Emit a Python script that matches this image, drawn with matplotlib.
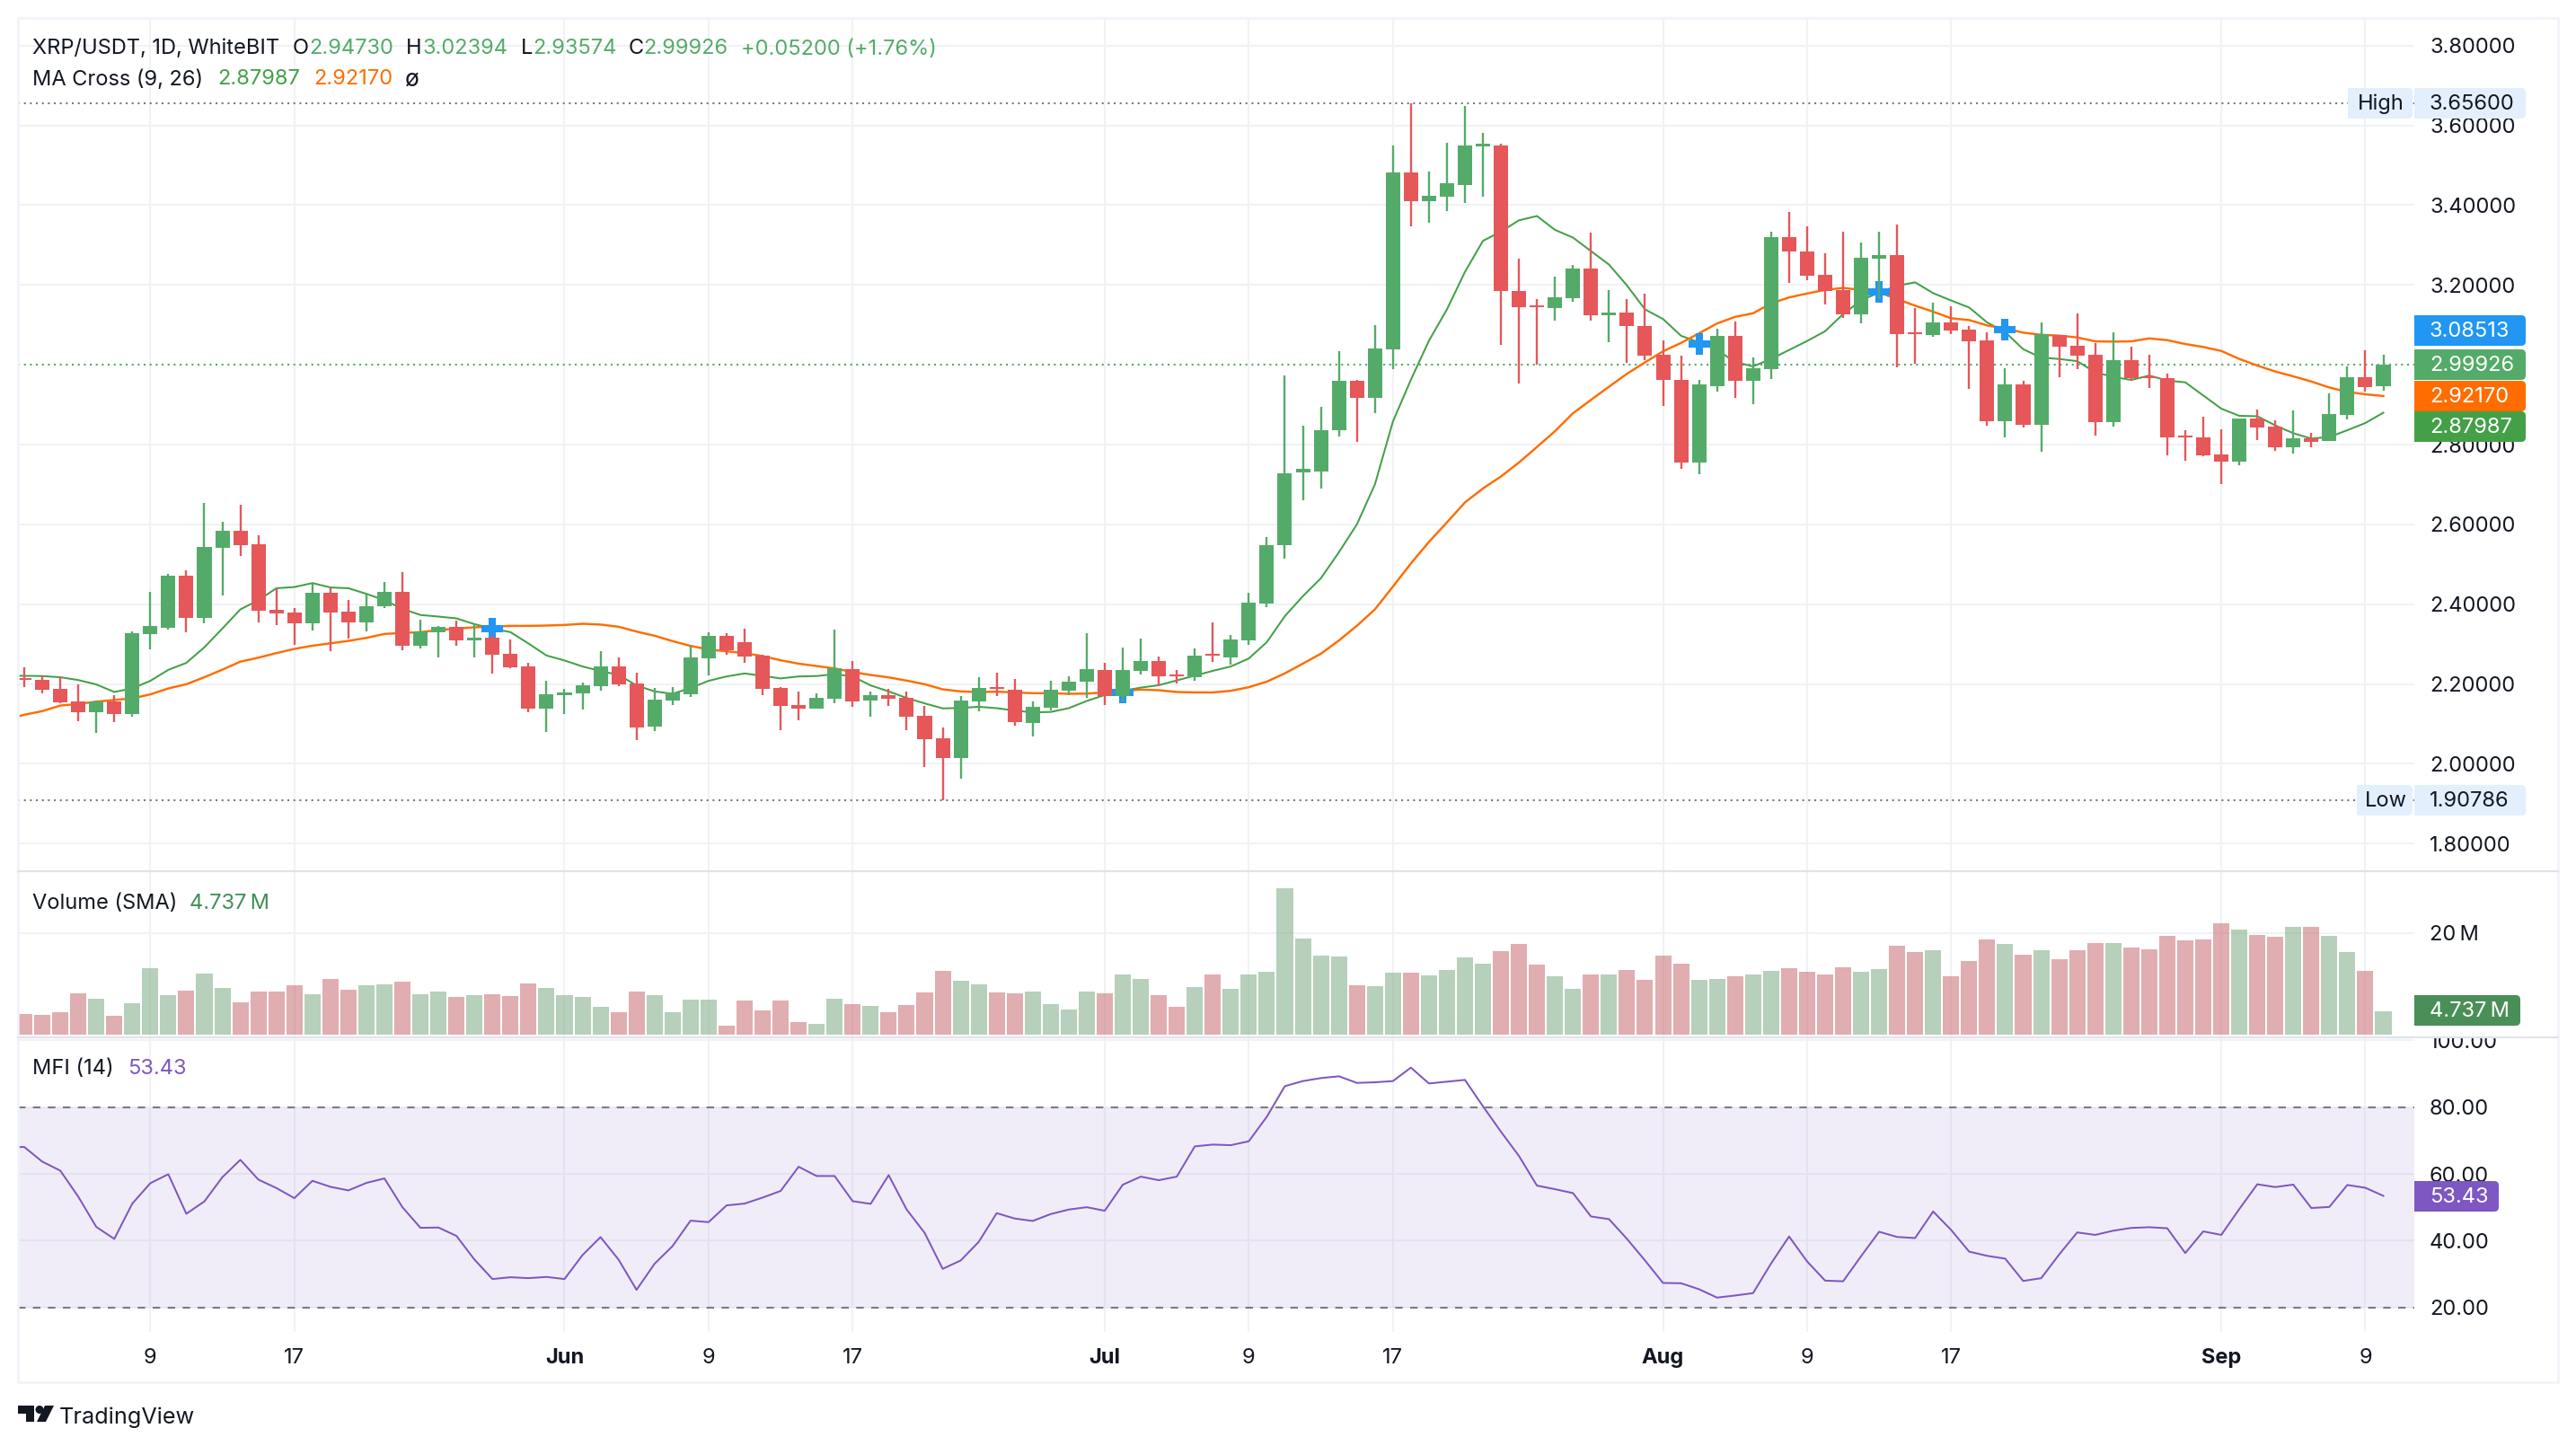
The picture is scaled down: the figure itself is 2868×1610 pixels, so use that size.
import numpy as np
import matplotlib
matplotlib.use("Agg")
import matplotlib.pyplot as plt
from matplotlib.patches import Rectangle, FancyBboxPatch, Polygon, Circle
from matplotlib.transforms import Affine2D, Bbox

plt.rcParams['font.family'] = ['Inter', 'DejaVu Sans']

# daily candles, 2 May to 10 Sep
opens = [2.215, 2.211, 2.188, 2.157, 2.130, 2.157, 2.125, 2.3255, 2.341, 2.472,
         2.366, 2.5415, 2.584, 2.5505, 2.386, 2.3795, 2.3525, 2.429, 2.382, 2.355,
         2.395, 2.431, 2.296, 2.330, 2.3435, 2.310, 2.3165, 2.276, 2.2445, 2.139,
         2.1725, 2.177, 2.195, 2.2445, 2.202, 2.094, 2.159, 2.175, 2.265, 2.321,
         2.305, 2.2715, 2.1905, 2.148, 2.139, 2.1635, 2.238, 2.159, 2.1725, 2.166,
         2.121, 2.0645, 2.015, 2.157, 2.193, 2.186, 2.103, 2.141, 2.184, 2.206,
         2.2355, 2.170, 2.233, 2.258, 2.224, 2.2175, 2.276, 2.267, 2.310, 2.402,
         2.548, 2.73, 2.733, 2.837, 2.959, 2.918, 3.0375, 3.483, 3.411, 3.422,
         3.4515, 3.548, 3.5505, 3.184, 3.148, 3.141, 3.166, 3.240, 3.123, 3.130,
         3.098, 3.024, 2.963, 2.755, 2.947, 3.073, 2.9605, 2.990, 3.3205, 3.2845,
         3.226, 3.188, 3.127, 3.2665, 3.2755, 3.082, 3.075, 3.107, 3.089, 3.0615,
         2.859, 2.9515, 2.850, 3.075, 3.048, 3.026, 2.857, 3.012, 2.9715, 2.967,
         2.823, 2.819, 2.776, 2.758, 2.8645, 2.846, 2.794, 2.8165, 2.810, 2.875,
         2.9695, 2.9473]
closes = [2.211, 2.186, 2.1545, 2.130, 2.157, 2.125, 2.328, 2.346, 2.472, 2.366,
          2.544, 2.584, 2.548, 2.384, 2.377, 2.3525, 2.429, 2.3795, 2.355, 2.395,
          2.431, 2.296, 2.332, 2.3435, 2.310, 2.3165, 2.274, 2.242, 2.139, 2.175,
          2.179, 2.197, 2.2445, 2.1995, 2.0915, 2.161, 2.179, 2.267, 2.321, 2.285,
          2.269, 2.188, 2.1455, 2.139, 2.166, 2.240, 2.157, 2.1725, 2.1635, 2.1185,
          2.062, 2.015, 2.159, 2.1905, 2.188, 2.105, 2.143, 2.186, 2.206, 2.238,
          2.170, 2.2355, 2.258, 2.220, 2.220, 2.2715, 2.2715, 2.312, 2.404, 2.548,
          2.729, 2.74, 2.837, 2.959, 2.918, 3.04, 3.483, 3.411, 3.4245, 3.456,
          3.5505, 3.553, 3.184, 3.1435, 3.1435, 3.168, 3.240, 3.123, 3.130, 3.096,
          3.022, 2.961, 2.755, 2.950, 3.073, 2.9605, 2.992, 3.3205, 3.2845, 3.224,
          3.1855, 3.127, 3.269, 3.2755, 3.0775, 3.0775, 3.107, 3.0865, 3.0595, 2.859,
          2.9515, 2.850, 3.0775, 3.046, 3.0235, 2.857, 3.012, 2.967, 2.967, 2.819,
          2.819, 2.774, 2.758, 2.8645, 2.8435, 2.794, 2.8165, 2.8075, 2.877, 2.9695,
          2.9445, 2.99926]
highs = [2.2415, 2.221, 2.219, 2.1995, 2.159, 2.1725, 2.332, 2.431, 2.476, 2.485,
         2.654, 2.607, 2.6495, 2.573, 2.440, 2.391, 2.4515, 2.440, 2.411, 2.4245,
         2.456, 2.481, 2.3615, 2.346, 2.359, 2.350, 2.323, 2.312, 2.2535, 2.2085,
         2.188, 2.203, 2.283, 2.267, 2.229, 2.1905, 2.193, 2.298, 2.330, 2.328,
         2.339, 2.274, 2.193, 2.1815, 2.177, 2.337, 2.258, 2.1815, 2.188, 2.1815,
         2.1455, 2.0915, 2.170, 2.2175, 2.229, 2.213, 2.157, 2.2085, 2.220, 2.328,
         2.2535, 2.292, 2.314, 2.269, 2.2355, 2.2895, 2.355, 2.323, 2.429, 2.5685,
         2.974, 2.848, 2.895, 3.035, 2.961, 3.1, 3.5505, 3.656, 3.485, 3.557,
         3.6495, 3.580, 3.553, 3.265, 3.1635, 3.220, 3.251, 3.330, 3.186, 3.1635,
         3.179, 3.060, 3.022, 2.963, 3.091, 3.109, 3.019, 3.334, 3.3835, 3.3475,
         3.280, 3.334, 3.307, 3.334, 3.352, 3.143, 3.156, 3.147, 3.098, 3.082,
         2.992, 2.9605, 3.107, 3.075, 3.129, 3.055, 3.082, 3.046, 3.026, 2.9785,
         2.837, 2.8705, 2.839, 2.8645, 2.8885, 2.8615, 2.886, 2.830, 2.929, 2.996,
         3.037, 3.02394]
lows = [2.193, 2.177, 2.1515, 2.107, 2.078, 2.105, 2.1185, 2.287, 2.337, 2.330,
        2.352, 2.422, 2.521, 2.355, 2.348, 2.2985, 2.3345, 2.283, 2.314, 2.332,
        2.391, 2.285, 2.2895, 2.267, 2.296, 2.267, 2.2265, 2.240, 2.130, 2.080,
        2.125, 2.1365, 2.184, 2.195, 2.060, 2.0825, 2.148, 2.168, 2.222, 2.274,
        2.2535, 2.1725, 2.085, 2.1095, 2.139, 2.152, 2.143, 2.1185, 2.1455, 2.085,
        1.9925, 1.90786, 1.963, 2.132, 2.170, 2.096, 2.069, 2.134, 2.1725, 2.166,
        2.148, 2.157, 2.224, 2.195, 2.202, 2.2085, 2.256, 2.249, 2.2985, 2.393,
        2.515, 2.66, 2.69, 2.821, 2.806, 2.878, 2.988, 3.3458, 3.355, 3.386,
        3.4065, 3.422, 3.049, 2.954, 3.001, 3.1095, 3.157, 3.1095, 3.0555, 3.004,
        3.0125, 2.896, 2.74, 2.725, 2.9335, 2.918, 2.902, 2.965, 3.206, 3.2125,
        3.152, 3.118, 3.1045, 3.1645, 2.994, 3.003, 3.071, 3.0775, 2.940, 2.848,
        2.819, 2.8435, 2.783, 2.9695, 2.990, 2.823, 2.846, 2.9605, 2.9425, 2.774,
        2.760, 2.7715, 2.702, 2.749, 2.812, 2.785, 2.778, 2.794, 2.810, 2.864,
        2.933, 2.93574]

# the indicators start one day before the first visible candle
ma_fast = [2.2215, 2.2205, 2.220, 2.217, 2.210, 2.199, 2.180, 2.189, 2.208, 2.2355, 2.253,
           2.292, 2.339, 2.387, 2.410, 2.440, 2.443, 2.453, 2.442, 2.440, 2.426,
           2.410, 2.3885, 2.373, 2.369, 2.3645, 2.350, 2.339, 2.330, 2.3015, 2.2715,
           2.259, 2.244, 2.2325, 2.223, 2.1965, 2.1815, 2.1755, 2.190, 2.208, 2.219,
           2.2265, 2.2205, 2.214, 2.219, 2.220, 2.225, 2.219, 2.1965, 2.1815, 2.165,
           2.1515, 2.139, 2.140, 2.143, 2.1395, 2.1335, 2.129, 2.130, 2.1395, 2.1575,
           2.1725, 2.183, 2.191, 2.197, 2.209, 2.221, 2.233, 2.244, 2.264, 2.305,
           2.37, 2.42, 2.465, 2.53, 2.60, 2.70, 2.8575, 2.9625, 3.060, 3.1387,
           3.2325, 3.3105, 3.3337, 3.362, 3.3727, 3.338, 3.3187, 3.285, 3.251, 3.1987,
           3.1387, 3.1147, 3.0727, 3.056, 3.037, 3.007, 2.996, 3.0145, 3.037, 3.0595,
           3.084, 3.127, 3.161, 3.181, 3.198, 3.2065, 3.1795, 3.161, 3.1435, 3.106,
           3.082, 3.039, 3.018, 3.0145, 3.009, 2.981, 2.9695, 2.962, 2.973, 2.9605,
           2.956, 2.923, 2.890, 2.872, 2.871, 2.848, 2.8285, 2.815, 2.819, 2.836,
           2.854, 2.87987]
ma_slow = [2.11, 2.123, 2.132, 2.146, 2.150, 2.156, 2.160, 2.164, 2.174, 2.189, 2.1995,
           2.217, 2.236, 2.256, 2.266, 2.2775, 2.288, 2.296, 2.302, 2.308, 2.3157,
           2.3255, 2.328, 2.330, 2.335, 2.339, 2.342, 2.344, 2.3457, 2.3457, 2.3465,
           2.348, 2.351, 2.349, 2.3435, 2.3315, 2.321, 2.3075, 2.2955, 2.2865, 2.282,
           2.2775, 2.270, 2.2595, 2.251, 2.245, 2.239, 2.230, 2.2227, 2.2167, 2.2085,
           2.1995, 2.1867, 2.1815, 2.180, 2.1807, 2.179, 2.177, 2.177, 2.1755, 2.176,
           2.179, 2.183, 2.186, 2.1845, 2.180, 2.179, 2.179, 2.183, 2.192, 2.206,
           2.2267, 2.251, 2.276, 2.309, 2.346, 2.387, 2.444, 2.502, 2.556, 2.605,
           2.655, 2.69, 2.72, 2.755, 2.794, 2.8335, 2.8785, 2.912, 2.945, 2.9775,
           3.006, 3.0337, 3.0547, 3.0787, 3.1035, 3.120, 3.129, 3.1537, 3.1687, 3.1785,
           3.1875, 3.1927, 3.1875, 3.1815, 3.1645, 3.148, 3.133, 3.1165, 3.112, 3.0985,
           3.091, 3.0805, 3.075, 3.073, 3.0685, 3.0587, 3.058, 3.0587, 3.066, 3.0617,
           3.052, 3.0445, 3.0347, 3.0145, 2.998, 2.983, 2.971, 2.958, 2.943, 2.932,
           2.926, 2.9217]
cross_idx = [26, 61, 93, 103, 110]
cross_price = [2.339, 2.178, 3.0517, 3.183, 3.087]

volume = [4.16, 3.99, 4.51, 8.21, 7.15, 3.81, 6.27, 13.13, 7.85, 8.73,
          12.08, 9.26, 6.45, 8.56, 8.56, 9.79, 8.03, 11.02, 8.91, 9.79,
          9.96, 10.49, 8.03, 8.56, 7.50, 7.85, 8.03, 7.68, 10.14, 9.26,
          7.85, 7.50, 5.57, 4.51, 8.56, 7.85, 4.51, 6.98, 6.98, 1.88,
          6.80, 4.87, 6.80, 2.58, 2.23, 7.15, 6.10, 5.74, 4.51, 5.92,
          8.38, 12.60, 10.67, 9.96, 8.38, 8.21, 8.56, 6.10, 5.04, 8.56,
          8.21, 11.90, 11.02, 7.85, 5.57, 9.44, 11.90, 9.09, 11.90, 12.43,
          28.78, 18.93, 15.59, 15.42, 9.79, 9.61, 12.25, 12.25, 11.72, 12.78,
          15.24, 14.01, 16.47, 17.88, 13.83, 11.55, 9.09, 11.90, 11.90, 12.78,
          10.84, 15.59, 14.01, 10.84, 11.02, 11.55, 11.90, 12.60, 13.13, 12.43,
          11.90, 13.31, 12.43, 12.95, 17.53, 16.30, 16.65, 11.55, 14.54, 18.76,
          17.88, 15.77, 16.65, 14.89, 16.65, 18.05, 18.05, 17.17, 16.82, 19.46,
          18.58, 18.76, 21.92, 20.69, 19.64, 19.28, 21.22, 21.22, 19.46, 16.30,
          12.60, 4.737]

mfi = [68.0, 68.07, 63.68, 60.99, 53.18, 44.13, 40.54, 51.12, 57.22, 59.91, 48.07,
       51.75, 59.01, 64.22, 58.30, 55.78, 52.74, 57.94, 56.14, 55.07, 57.31,
       58.65, 50.04, 43.86, 43.95, 41.43, 34.35, 28.52, 29.06, 28.79, 29.15,
       28.52, 35.70, 41.08, 34.35, 25.29, 33.09, 38.39, 46.01, 45.56, 50.58,
       51.12, 52.91, 54.89, 62.15, 59.37, 59.37, 51.84, 51.03, 59.64, 49.33,
       42.33, 31.57, 34.08, 39.64, 48.25, 46.64, 45.92, 47.98, 49.33, 50.04,
       48.97, 56.77, 59.19, 58.12, 59.19, 68.25, 68.79, 68.61, 69.78, 77.13,
       86.28, 87.80, 88.70, 89.24, 87.26, 87.44, 87.80, 91.84, 87.09, 87.62,
       88.16, 80.27, 72.65, 65.38, 56.50, 55.43, 54.26, 47.26, 46.46, 40.54,
       34.08, 27.35, 27.26, 25.47, 22.96, 23.59, 24.30, 33.18, 41.26, 33.80,
       28.05, 27.84, 35.37, 42.68, 41.12, 40.80, 48.75, 43.21, 36.73, 35.47,
       34.64, 27.95, 28.78, 35.89, 42.48, 41.74, 43.00, 43.83, 44.04, 43.73,
       36.31, 42.79, 41.74, 49.48, 56.90, 56.06, 56.80, 49.79, 50.11, 56.69,
       55.85, 53.43]

date_ticks = [7, 15, 30, 38, 46, 60, 68, 76, 91, 99, 107, 122, 130]
date_labels = ['9', '17', 'Jun', '9', '17', 'Jul', '9', '17', 'Aug', '9', '17', 'Sep', '9']
price_ticks = [1.8, 2.0, 2.2, 2.4, 2.6, 2.8, 3.2, 3.4, 3.6, 3.8]
mfi_ticks = [20, 40, 60, 80, 100]

high_val = 3.656
low_val = 1.90786
last_close = 2.99926

W, H = 2868, 1610
GREEN = '#54AB69'
RED = '#E55759'
MA_GREEN = '#43A047'
ORANGE = '#FF6D00'
BLUE = '#2196F3'
PURPLE = '#7E57C2'
INK = '#131722'
GRID = '#F1F2F5'
FRAME = '#F0F3FA'
SEP = '#E0E3EB'
FS = 17

fig = plt.figure(figsize=(W / 100, H / 100), dpi=100, facecolor='white')
px = Affine2D().scale(1, -1).translate(0, H)  # top-left pixel coords


def make_ax(left, top, right, bottom):
    ax = fig.add_axes([left / W, 1 - bottom / H, (right - left) / W, (bottom - top) / H])
    for s in ax.spines.values():
        s.set_visible(False)
    ax.set_xlim(-0.349, 132.72)
    ax.set_xticks(date_ticks)
    ax.set_xticklabels([])
    ax.yaxis.tick_right()
    ax.tick_params(length=0, labelsize=FS, labelcolor=INK, pad=12.3)
    ax.set_axisbelow(True)
    ax.grid(True, color=GRID, lw=1.5)
    return ax


x = np.arange(len(opens))
x_ind = np.arange(-1, len(opens))
o, h, l, c = map(np.array, (opens, highs, lows, closes))
up = c >= o

# price pane
ax = make_ax(20, 20, 2688, 970)
ax.set_ylim(1.731, 3.869)
ax.set_yticks(price_ticks)
ax.set_yticklabels(['%.5f' % t for t in price_ticks])
ax.axhline(high_val, color='#787B86', lw=1.5, ls=(0, (1, 2.2)), zorder=1)
ax.axhline(low_val, color='#787B86', lw=1.5, ls=(0, (1, 2.2)), zorder=1)
ax.axhline(last_close, color=GREEN, lw=1.5, ls=(0, (1, 2.2)), zorder=1)
ax.plot(x_ind, ma_fast, color=MA_GREEN, lw=1.45, zorder=2)
ax.plot(x_ind, ma_slow, color=ORANGE, lw=1.75, zorder=2.1)
ax.plot(cross_idx, cross_price, ls='none', marker='+', ms=17.3, mew=5.8, color=BLUE, zorder=2.5)
colors = np.where(up, GREEN, RED)
ax.vlines(x, l, h, colors=colors, lw=1.7, zorder=3)
ax.bar(x, np.maximum(np.abs(c - o), 0.004), bottom=np.minimum(o, c), width=0.8, color=colors, zorder=3.1)

# volume pane
ax_v = make_ax(20, 970, 2688, 1154)
ax_v.set_ylim(-0.28, 32.14)
ax_v.set_yticks([20])
ax_v.set_yticklabels(['20\u2009M'])
ax_v.bar(x, volume, width=0.9, color=np.where(up, '#6FA379', '#C35D65'), alpha=0.5, zorder=2)

# mfi pane
ax_m = make_ax(20, 1155, 2688, 1483)
ax_m.set_ylim(12.68, 100.9)
ax_m.set_yticks(mfi_ticks)
ax_m.set_yticklabels(['%.2f' % t for t in mfi_ticks])
ax_m.axhspan(20, 80, color=PURPLE, alpha=0.1, lw=0, zorder=1)
ax_m.axhline(80, color='#787B86', lw=1.5, ls=(0, (4, 4)), zorder=1.5)
ax_m.axhline(20, color='#787B86', lw=1.5, ls=(0, (4, 4)), zorder=1.5)
ax_m.plot(x_ind, mfi, color=PURPLE, lw=1.45, zorder=2)
ax_m.set_xticklabels(date_labels)
ax_m.tick_params(axis='x', pad=13)
for lab, name in zip(ax_m.get_xticklabels(), date_labels):
    if not name.isdigit():
        lab.set_fontweight('bold')
# top tick label runs under the pane separator
clip = Bbox([[2688, 0], [2848, H - 1155]])
for lab in ax_m.get_yticklabels():
    if lab.get_text() == '100.00':
        lab.set_clip_box(clip)
        lab.set_clip_on(True)


def line_px(x0, y0, x1, y1, color, lw=2):
    fig.add_artist(plt.Line2D([x0, x1], [y0, y1], transform=px, color=color, lw=lw * 0.72, zorder=2))


def pill(x0, x1, yc, color, label, tcolor='white', height=34, tx=2705):
    # square on the axis side, rounded on the other
    y0 = yc - height / 2
    fig.add_artist(FancyBboxPatch((x0, y0), x1 - x0, height, boxstyle='round,pad=0,rounding_size=5',
                                  transform=px, fc=color, ec='none', zorder=4))
    fig.add_artist(Rectangle((x0, y0), 10, height, transform=px, fc=color, ec='none', zorder=4))
    fig.text(tx / W, 1 - (yc - 1.5) / H, label, color=tcolor, fontsize=FS, va='center_baseline', ha='left', zorder=5)


def txt(xp, yp, s, color=INK, size=FS, **kw):
    fig.text(xp / W, 1 - yp / H, s, color=color, fontsize=size, va='center_baseline', ha='left', zorder=5, **kw)


# frame and pane separators
fig.add_artist(Rectangle((20, 20), 2828, 1519, transform=px, fc='none', ec=FRAME, lw=1.8, zorder=2))
line_px(20, 970, 2848, 970, SEP, 2.2)
line_px(20, 1155, 2848, 1155, SEP, 2.2)

# price axis labels
pill(2688, 2812, 115, '#E3EFFD', '3.65600', INK)
pill(2614, 2686, 115, '#E3EFFD', 'High', INK, tx=2625)
pill(2688, 2812, 891, '#E3EFFD', '1.90786', INK)
pill(2624, 2686, 891, '#E3EFFD', 'Low', INK, tx=2633)
pill(2688, 2812, 368, BLUE, '3.08513')
pill(2688, 2812, 406, GREEN, '2.99926')
pill(2688, 2812, 441, ORANGE, '2.92170')
pill(2688, 2812, 475, MA_GREEN, '2.87987')
pill(2688, 2806, 1125, '#4A8F58', '4.737\u2009M')
pill(2688, 2782, 1332, PURPLE, '53.43')

# legends
LG = 17
txt(36, 52, 'XRP/USDT, 1D, WhiteBIT', size=LG)
txt(326, 52, 'O', size=LG)
txt(344, 52, '2.94730', GREEN, size=LG)
txt(452, 52, 'H', size=LG)
txt(470, 52, '3.02394', GREEN, size=LG)
txt(580, 52, 'L', size=LG)
txt(593, 52, '2.93574', GREEN, size=LG)
txt(700, 52, 'C', size=LG)
txt(716, 52, '2.99926', GREEN, size=LG)
txt(825, 52, '+0.05200 (+1.76%)', GREEN, size=LG)
txt(36, 86, 'MA Cross (9, 26)', size=LG)
txt(242, 86, '2.87987', MA_GREEN, size=LG)
txt(349, 86, '2.92170', ORANGE, size=LG)
txt(451, 86, '\u00f8', size=19)
txt(36, 1003, 'Volume (SMA)', size=LG)
txt(211, 1003, '4.737\u2009M', '#3F8F55', size=LG)
txt(36, 1187, 'MFI (14)', size=LG)
txt(142, 1187, '53.43', PURPLE, size=LG)

# TradingView logo
fig.add_artist(Polygon([(20, 1565), (38, 1565), (38, 1583), (29, 1583), (29, 1574), (20, 1574)],
                       transform=px, fc=INK, ec='none', zorder=5))
fig.add_artist(Circle((44, 1569.5), 4.5, transform=px, fc=INK, ec='none', zorder=5))
fig.add_artist(Polygon([(50, 1565), (60, 1565), (51, 1583), (41, 1583)], transform=px, fc=INK, ec='none', zorder=5))
txt(66, 1576, 'TradingView', size=18.2)

fig.savefig('out.png', dpi=100)
